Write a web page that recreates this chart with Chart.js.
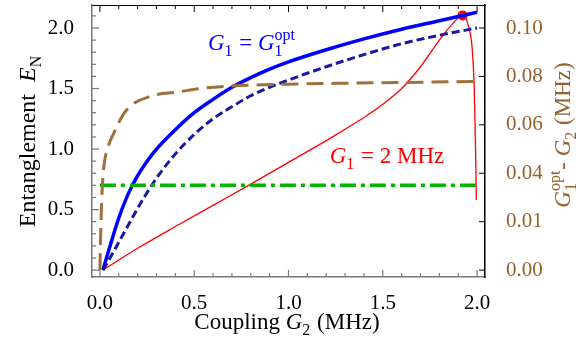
<!DOCTYPE html>
<html>
<head>
<meta charset="utf-8">
<script src="https://cdn.jsdelivr.net/npm/chart.js@4.4.1/dist/chart.umd.min.js"></script>
<style>
  html, body { margin: 0; padding: 0; background: #fff; }
  #wrap { width: 585px; height: 347px; position: relative; }
</style>
</head>
<body>
<div id="wrap"><canvas id="myChart"></canvas></div>
<script>
// values
const optX = [0.016, 0.05, 0.1, 0.15, 0.2, 0.25, 0.3, 0.4, 0.5, 0.6, 0.7, 0.8, 0.9, 1.0, 1.2, 1.4, 1.6, 1.8, 2.0];
const optY = [0.0, 0.18, 0.43, 0.63, 0.78, 0.9, 1.0, 1.16, 1.3, 1.41, 1.51, 1.59, 1.66, 1.72, 1.82, 1.91, 1.99, 2.06, 2.13];

const dashX = [0.016, 0.05, 0.1, 0.15, 0.2, 0.25, 0.3, 0.4, 0.5, 0.6, 0.7, 0.8, 0.9, 1.0, 1.2, 1.4, 1.6, 1.8, 2.0];
const dashY = [0.0, 0.09, 0.23, 0.37, 0.51, 0.64, 0.76, 0.96, 1.12, 1.25, 1.35, 1.44, 1.51, 1.57, 1.68, 1.78, 1.87, 1.94, 2.0];

const redX = [0.016, 0.2, 0.4, 0.6, 0.8, 1.0, 1.2, 1.4, 1.5, 1.6, 1.7, 1.8, 1.873, 1.923, 1.958, 1.974, 1.985, 1.992, 1.996];
const redY = [0.0, 0.18, 0.36, 0.535, 0.71, 0.89, 1.07, 1.26, 1.37, 1.5, 1.68, 1.9, 2.04, 2.104, 1.995, 1.83, 1.5, 1.0, 0.58];
const peak = [1.923, 2.104];

const diffX = [0.0, 0.004, 0.01, 0.02, 0.04, 0.07, 0.14, 0.265, 0.424, 0.53, 0.69, 1.0, 1.3, 1.59, 2.0];
const diffY = [0.0, 0.015, 0.03, 0.042, 0.05, 0.056, 0.066, 0.0717, 0.0737, 0.075, 0.076, 0.0768, 0.0772, 0.0775, 0.0779];

const flatX = [0.0, 2.0];
const flatY = [0.7, 0.7];

const rightTicks = [0, 0.02, 0.04, 0.06, 0.08, 0.10];
const rightLabels = ['0.00', '0.01', '0.04', '0.06', '0.08', '0.10'];

const serif = "'Liberation Serif', serif";
const brown = '#a0703a';
const brownText = '#93622e';

Chart.defaults.font.family = serif;

function pts(xs, ys) { return xs.map((x, i) => ({ x: x, y: ys[i] })); }

function steps(from, to, n) {
  const out = [];
  for (let i = from; i <= to; i++) out.push({ value: i / n });
  return out;
}

function isMajor(v) { return Math.abs(v * 2 - Math.round(v * 2)) < 1e-6; }

function noPad(s) { s.paddingTop = 0; s.paddingBottom = 0; s.paddingLeft = 0; s.paddingRight = 0; }

// rich text: plain, italic, subscript / superscript pieces
function fnt(size, it) { return (it ? 'italic ' : '') + size + 'px ' + serif; }
function segW(ctx, s, size) {
  const small = Math.round(size * 0.68);
  if (s.sub !== undefined || s.sup !== undefined) {
    ctx.font = fnt(small, false);
    const a = s.sub ? ctx.measureText(s.sub).width : 0;
    const b = s.sup ? ctx.measureText(s.sup).width : 0;
    return Math.max(a, b) + 1;
  }
  ctx.font = fnt(size, s.it);
  return ctx.measureText(s.t).width;
}
function drawRich(ctx, segs, x, y, size, color) {
  ctx.save();
  ctx.fillStyle = color;
  ctx.textAlign = 'left';
  ctx.textBaseline = 'alphabetic';
  let total = 0;
  segs.forEach(s => total += segW(ctx, s, size));
  let cx = x - total / 2;
  const small = Math.round(size * 0.68);
  segs.forEach(s => {
    const w = segW(ctx, s, size);
    if (s.sub !== undefined || s.sup !== undefined) {
      ctx.font = fnt(small, false);
      if (s.sub) ctx.fillText(s.sub, cx, y + size * 0.25);
      if (s.sup) ctx.fillText(s.sup, cx, y - size * 0.42);
    } else {
      ctx.font = fnt(size, s.it);
      ctx.fillText(s.t, cx, y);
    }
    cx += w;
  });
  ctx.restore();
}

const decor = {
  id: 'decor',
  afterDraw(chart) {
    const ctx = chart.ctx;
    const a = chart.chartArea;
    const sc = chart.scales;
    ctx.save();
    // inward tick marks
    sc.x.ticks.forEach(t => {
      const px = sc.x.getPixelForValue(t.value);
      const len = isMajor(t.value) ? 7 : 4;
      ctx.strokeStyle = '#777'; ctx.lineWidth = 1.2;
      ctx.beginPath(); ctx.moveTo(px, a.bottom); ctx.lineTo(px, a.bottom - len); ctx.stroke();
      ctx.strokeStyle = '#000'; ctx.lineWidth = 1;
      ctx.beginPath(); ctx.moveTo(px, a.top); ctx.lineTo(px, a.top + len); ctx.stroke();
    });
    sc.y.ticks.forEach(t => {
      const py = sc.y.getPixelForValue(t.value);
      const len = isMajor(t.value) ? 7 : 4;
      ctx.strokeStyle = '#777'; ctx.lineWidth = 1.2;
      ctx.beginPath(); ctx.moveTo(a.left, py); ctx.lineTo(a.left + len, py); ctx.stroke();
    });
    sc.y2.ticks.forEach(t => {
      const py = sc.y2.getPixelForValue(t.value);
      ctx.strokeStyle = '#000'; ctx.lineWidth = 1;
      ctx.beginPath(); ctx.moveTo(a.right, py); ctx.lineTo(a.right - 6, py); ctx.stroke();
    });
    ctx.restore();

    // axis titles
    drawRich(ctx, [{ t: 'Coupling ' }, { t: 'G', it: true }, { sub: '2' }, { t: ' (MHz)' }], 287, 329, 23, '#000');

    ctx.save();
    ctx.translate(35, 141);
    ctx.rotate(-Math.PI / 2);
    drawRich(ctx, [{ t: 'Entanglement  ' }, { t: 'E', it: true }, { sub: 'N' }], 0, 0, 24, '#000');
    ctx.restore();

    ctx.save();
    ctx.translate(570, 135);
    ctx.rotate(-Math.PI / 2);
    drawRich(ctx, [{ t: 'G', it: true }, { sub: '1', sup: 'opt' }, { t: '- ' }, { t: 'G', it: true }, { sub: '2' }, { t: ' (MHz)' }], 0, 0, 23, brownText);
    ctx.restore();

    // curve labels
    drawRich(ctx, [{ t: 'G', it: true }, { sub: '1' }, { t: ' = ' }, { t: 'G', it: true }, { sub: '1', sup: 'opt' }], 252, 50, 23, '#0000ff');
    drawRich(ctx, [{ t: 'G', it: true }, { sub: '1' }, { t: ' = 2 MHz' }], 387, 163, 23, '#ff0000');
  }
};

const ctx = document.getElementById('myChart');

new Chart(ctx, {
  type: 'line',
  data: {
    datasets: [
      { label: 'diff', data: pts(diffX, diffY), yAxisID: 'y2', borderColor: brown, borderWidth: 3, borderDash: [17, 8], pointRadius: 0, cubicInterpolationMode: 'monotone', fill: false },
      { label: 'flat', data: pts(flatX, flatY), yAxisID: 'y', borderColor: '#00b400', borderWidth: 3.5, borderDash: [16, 5, 4, 5], pointRadius: 0, fill: false },
      { label: 'dashed', data: pts(dashX, dashY), yAxisID: 'y', borderColor: '#1818a0', borderWidth: 3, borderDash: [8, 4], pointRadius: 0, cubicInterpolationMode: 'monotone', fill: false },
      { label: 'opt', data: pts(optX, optY), yAxisID: 'y', borderColor: '#0000ff', borderWidth: 3.5, pointRadius: 0, cubicInterpolationMode: 'monotone', fill: false },
      { label: 'G1=2', data: pts(redX, redY), yAxisID: 'y', borderColor: '#ff0000', borderWidth: 1.3, pointRadius: 0, cubicInterpolationMode: 'monotone', fill: false },
      { label: 'peak', data: [{ x: peak[0], y: peak[1] }], yAxisID: 'y', showLine: false, pointRadius: 5, pointBackgroundColor: '#ff0000', pointBorderColor: '#ff0000', pointBorderWidth: 0 }
    ]
  },
  options: {
    responsive: true,
    maintainAspectRatio: false,
    animation: false,
    layout: { padding: 0 },
    plugins: { legend: { display: false }, tooltip: { enabled: false } },
    scales: {
      x: {
        type: 'linear', position: 'bottom', min: -0.042, max: 2.042,
        afterBuildTicks: s => { s.ticks = steps(0, 20, 10); },
        afterFit: s => { s.height = 70; noPad(s); },
        grid: { display: false },
        border: { color: '#777', width: 1.5 },
        ticks: { autoSkip: false, maxRotation: 0, padding: 6, color: '#000', font: { family: serif, size: 21 },
          callback: v => isMajor(v) ? v.toFixed(1) : '' }
      },
      x2: {
        type: 'linear', position: 'top', min: -0.042, max: 2.042,
        afterFit: s => { s.height = 3; noPad(s); },
        grid: { display: false },
        border: { color: '#000', width: 1 },
        ticks: { display: false }
      },
      y: {
        type: 'linear', position: 'left', min: -0.057, max: 2.19,
        afterBuildTicks: s => { s.ticks = steps(0, 21, 10); },
        afterFit: s => { s.width = 92; noPad(s); },
        grid: { display: false },
        border: { color: '#777', width: 1.5 },
        ticks: { autoSkip: false, padding: 10, color: '#000', font: { family: serif, size: 21 },
          callback: v => isMajor(v) ? v.toFixed(1) : '' }
      },
      y2: {
        type: 'linear', position: 'right', min: -0.00285, max: 0.1095,
        afterBuildTicks: s => { s.ticks = rightTicks.map(v => ({ value: v })); },
        afterFit: s => { s.width = 100; noPad(s); },
        grid: { display: false },
        border: { color: '#000', width: 1.5 },
        ticks: { autoSkip: false, padding: 13, color: brownText, font: { family: serif, size: 21 },
          callback: (v, i) => rightLabels[i] }
      }
    }
  },
  plugins: [decor]
});
</script>
</body>
</html>
